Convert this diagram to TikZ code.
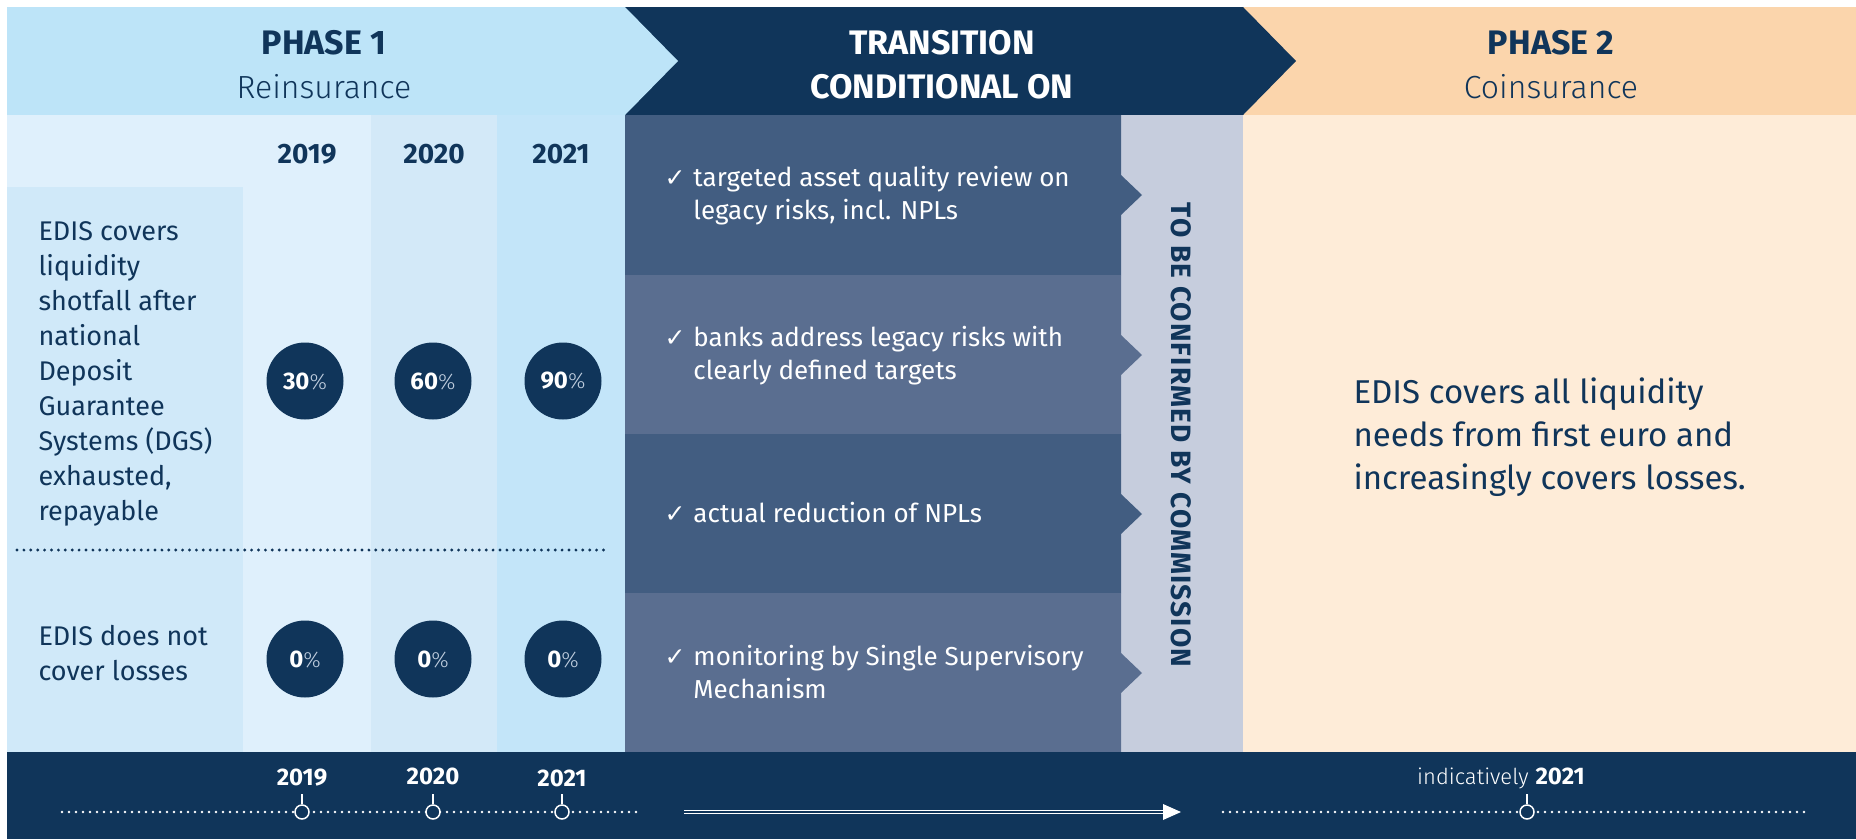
\documentclass[tikz,border=0pt]{standalone}
\usepackage{fontspec}
\setmainfont{Fira Sans}
\newfontfamily\lightfont{Fira Sans Light}
\newfontfamily\symfont{DejaVu Sans}
\newfontfamily\spacedbold{Fira Sans}[LetterSpace=4]
\usetikzlibrary{arrows.meta}

\definecolor{navy}{HTML}{10355A}
\definecolor{headOne}{HTML}{BDE4F8}
\definecolor{headTwo}{HTML}{FBD5AC}
\definecolor{bodyTwo}{HTML}{FEECD8}
\definecolor{paleA}{HTML}{DFF0FC}
\definecolor{paleB}{HTML}{D0E9F9}
\definecolor{colMid}{HTML}{D3E9F8}
\definecolor{colLate}{HTML}{C3E5F9}
\definecolor{rowDark}{HTML}{425D81}
\definecolor{rowLight}{HTML}{5A6E90}
\definecolor{confirmBand}{HTML}{C6CDDD}
\definecolor{pctGrey}{HTML}{C0CEDF}

\tikzset{
  headtitle/.style={font=\fontsize{34}{34}\selectfont\bfseries},
  headsub/.style={font=\lightfont\fontsize{32}{32}\selectfont, text=navy},
  yearhead/.style={font=\fontsize{28}{28}\selectfont\bfseries, text=navy},
  pctcircle/.style={circle, fill=navy, minimum size=77pt, inner sep=0pt, text=white},
  bodytext/.style={anchor=west, align=left, font=\fontsize{27}{35}\selectfont, text=navy},
  condtext/.style={anchor=west, font=\fontsize{26}{33}\selectfont, text=white},
  dotsep/.style={navy, line width=3.2pt, line cap=round, dash pattern=on 0pt off 6.9pt},
  timedots/.style={white, line width=2.8pt, line cap=round, dash pattern=on 0pt off 7pt},
  milestone/.style={circle, draw=white, line width=1.5pt, fill=navy, minimum size=14pt, inner sep=0pt},
  tick/.style={white, line width=1.5pt},
  yearfoot/.style={font=\fontsize{24}{24}\selectfont\bfseries, text=white},
}
\newcommand{\pctlabel}[1]{{\fontsize{24}{24}\selectfont\bfseries #1}{\lightfont\fontsize{22}{22}\selectfont\color{pctGrey}\%}}
\newcommand{\tick}{{\symfont\fontsize{25}{25}\selectfont ✓}}

\begin{document}
\begin{tikzpicture}[x=1pt,y=-1pt]
\fill[white] (0,0) rectangle (1856,839);
\useasboundingbox (0,0) rectangle (1856,839);

% header chevrons
\fill[headTwo] (1243,7) rectangle (1856,115);
\fill[navy] (625,7) -- (1243,7) -- (1296,61) -- (1243,115) -- (625,115) -- cycle;
\fill[headOne] (7,7) -- (625,7) -- (678,61) -- (625,115) -- (7,115) -- cycle;

% phase 1 body columns
\fill[paleA] (7,115) rectangle (371,752);
\fill[paleB] (7,187) rectangle (243,752);
\fill[colMid] (371,115) rectangle (497,752);
\fill[colLate] (497,115) rectangle (625,752);

% confirmation band and phase 2 body
\fill[confirmBand] (1121,115) rectangle (1243,752);
\fill[bodyTwo] (1243,115) rectangle (1856,752);

% condition rows with notches
\fill[rowDark]  (625,115) -- (1121,115) -- (1121,175) -- (1142,195) -- (1121,215) -- (1121,275) -- (625,275) -- cycle;
\fill[rowLight] (625,275) -- (1121,275) -- (1121,335) -- (1142,355) -- (1121,375) -- (1121,434) -- (625,434) -- cycle;
\fill[rowDark]  (625,434) -- (1121,434) -- (1121,494) -- (1142,514) -- (1121,534) -- (1121,593) -- (625,593) -- cycle;
\fill[rowLight] (625,593) -- (1121,593) -- (1121,653) -- (1142,673) -- (1121,693) -- (1121,752) -- (625,752) -- cycle;

% footer band
\fill[navy] (7,752) rectangle (1856,839);

% header texts
\node[headtitle, text=navy] (p1title) at (324,43) {PHASE 1};
\node[headsub] (p1sub) at (324,87) {Reinsurance};
\node[headtitle, text=white] (trtitle) at (942,43) {TRANSITION};
\node[headtitle, text=white] (trsub) at (942,87) {CONDITIONAL ON};
\node[headtitle, text=navy] (p2title) at (1551,43) {PHASE 2};
\node[headsub] (p2sub) at (1551,87) {Coinsurance};

% year headings
\node[yearhead] (yA) at (307,154) {2019};
\node[yearhead] (yB) at (434,154) {2020};
\node[yearhead] (yC) at (561,154) {2021};

% row labels
\node[bodytext] (coverTxt) at (35,374) {EDIS covers\\liquidity\\shotfall after\\national\\Deposit\\Guarantee\\Systems (DGS)\\exhausted,\\repayable};
\node[bodytext] (lossTxt) at (35,653) {EDIS does not\\cover losses};

\coordinate (sepL) at (17,550);
\coordinate (sepR) at (610,550);
\draw[dotsep] (sepL) -- (sepR);

% share circles
\node[pctcircle] (cA) at (305,381) {\pctlabel{30}};
\node[pctcircle] (cB) at (433,381) {\pctlabel{60}};
\node[pctcircle] (cC) at (563,381) {\pctlabel{90}};
\node[pctcircle] (dA) at (305,659) {\pctlabel{0}};
\node[pctcircle] (dB) at (433,659) {\pctlabel{0}};
\node[pctcircle] (dC) at (563,659) {\pctlabel{0}};

% conditions
\node[condtext] (condA) at (661,196) {\begin{tabular}{@{}l@{\hspace{8pt}}l@{}}\tick & targeted asset quality review on\\ & legacy risks, incl. NPLs\end{tabular}};
\node[condtext] (condB) at (661,356) {\begin{tabular}{@{}l@{\hspace{8pt}}l@{}}\tick & banks address legacy risks with\\ & clearly defined targets\end{tabular}};
\node[condtext] (condC) at (661,516) {\begin{tabular}{@{}l@{\hspace{8pt}}l@{}}\tick & actual reduction of NPLs\end{tabular}};
\node[condtext] (condD) at (661,675) {\begin{tabular}{@{}l@{\hspace{8pt}}l@{}}\tick & monitoring by Single Supervisory\\ & Mechanism\end{tabular}};

\node[rotate=-90, font=\spacedbold\fontsize{28}{28}\selectfont\bfseries, text=navy] (confirm) at (1181,435) {TO BE CONFIRMED BY COMMISSION};

% phase 2 statement
\node[anchor=west, align=left, font=\fontsize{33}{43}\selectfont, text=navy] (p2txt) at (1350,437) {EDIS covers all liquidity\\needs from first euro and\\increasingly covers losses.};

% timeline
\coordinate (tlA) at (62,812);
\coordinate (tlB) at (643,812);
\draw[timedots] (tlA) -- (tlB);
\coordinate (tlC) at (1223,812);
\coordinate (tlD) at (1805,812);
\draw[timedots] (tlC) -- (tlD);

\node[milestone] (mA) at (302,812) {};
\node[milestone] (mB) at (433,812) {};
\node[milestone] (mC) at (562,812) {};
\node[milestone] (mD) at (1527,812) {};
\foreach \m in {mA,mB,mC,mD} \draw[tick] (\m.north) -- ++(0,-10);

\node[yearfoot] (fA) at (302,778) {2019};
\node[yearfoot] (fB) at (433,776) {2020};
\node[yearfoot] (fC) at (562,778) {2021};
\node[text=white] (fD) at (1501,778) {{\lightfont\fontsize{22}{22}\selectfont indicatively}\hspace{7pt}{\fontsize{24}{24}\selectfont\bfseries 2021}};

% transition arrow
\coordinate (arA) at (684,812);
\coordinate (arB) at (1181,812);
\draw[draw=white, double=navy, double distance=2.2pt, line width=1.2pt, shorten >=14pt] (arA) -- (arB);
\fill[white] (arB) -- ++(-18,-8) -- ++(0,16) -- cycle;
\end{tikzpicture}
\end{document}
